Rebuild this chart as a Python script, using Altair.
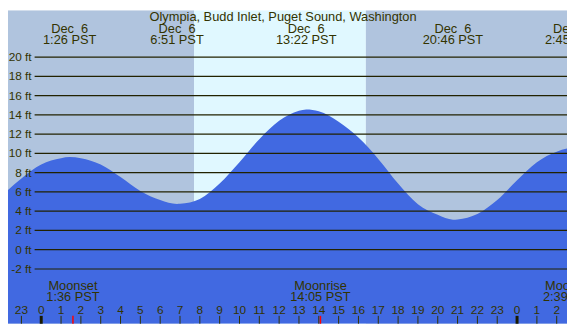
import altair as alt
import pandas as pd

# ---------------- data ----------------
title_text = "Olympia, Budd Inlet, Puget Sound, Washington"

# tide height (ft) against hour of Dec 6 (negative = Dec 5, >24 = Dec 7)
tide_hours = [-2, -1, 0, 1, 1.433, 2, 3, 4, 5, 6, 6.85, 7, 8, 9, 10, 11, 12, 13,
              13.367, 14, 15, 16, 17, 18, 19, 20, 20.767, 21, 22, 23, 24, 25, 26,
              26.75, 27]
tide_feet = [5.6, 7.4, 8.85, 9.5, 9.62, 9.5, 8.85, 7.55, 6.1, 5.15, 4.75, 4.76, 5.26,
             6.87, 9.08, 11.47, 13.38, 14.44, 14.57, 14.37, 13.28, 11.64, 9.43, 6.87,
             4.72, 3.62, 3.12, 3.15, 3.72, 5.16, 7.2, 9.08, 10.17, 10.55, 10.5]

# high / low tide labels
event_hours = [1.433, 6.85, 13.367, 20.767, 26.75]
event_dates = ["Dec \u00a06", "Dec \u00a06", "Dec \u00a06", "Dec \u00a06", "Dec \u00a07"]
event_times = ["1:26 PST", "6:51 PST", "13:22 PST", "20:46 PST", "2:45 PST"]

# moon events
moon_hours = [1.6, 14.083, 26.65]
moon_names = ["Moonset", "Moonrise", "Moonset"]
moon_times = ["1:36 PST", "14:05 PST", "2:39 PST"]

# sunrise / sunset
sunrise_h = 7.707
sunset_h = 16.375

# axis labels
ft_ticks = [-2, 0, 2, 4, 6, 8, 10, 12, 14, 16, 18, 20]
hour_ticks = list(range(-2, 27))

# ---------------- geometry ----------------
W, H = 567, 318          # chart covers the reference from x=8, y=8 on
PX_H, X_ZERO = 20.11, 41.7
PX_FT, Y_ZERO = 9.77, 250.9
x_dom = [(8 - X_ZERO) / PX_H, (575 - X_ZERO) / PX_H]
y_dom = [(Y_ZERO - 326) / PX_FT, (Y_ZERO - 8) / PX_FT]
xs = alt.Scale(domain=x_dom, nice=False, zero=False)
ys = alt.Scale(domain=y_dom, nice=False, zero=False)

TXT = "#333300"
LINE = "#222200"
FONT = "Liberation Sans"

bands_df = pd.DataFrame({"start": [x_dom[0] - 1, sunrise_h, sunset_h],
                         "end": [sunrise_h, sunset_h, x_dom[1] + 1],
                         "kind": ["night", "day", "night"]})
tide_df = pd.DataFrame({"h": tide_hours, "ft": tide_feet})
ft_df = pd.DataFrame({"ft": ft_ticks, "label": [f"{v} ft" for v in ft_ticks]})
ev_df = pd.DataFrame({"h": event_hours, "date": event_dates, "time": event_times})
moon_df = pd.DataFrame({"h": moon_hours, "name": moon_names, "time": moon_times})
hr_df = pd.DataFrame({"h": hour_ticks, "label": [str(v % 24) for v in hour_ticks],
                      "midnight": [v % 24 == 0 for v in hour_ticks]})
title_df = pd.DataFrame({"t": [title_text]})

X = lambda f: alt.X(f, type="quantitative", scale=xs, axis=None)
Y = lambda f: alt.Y(f, type="quantitative", scale=ys, axis=None)

bands = alt.Chart(bands_df).mark_rect(clip=True).encode(
    x=X("start"), x2="end", y=alt.value(0), y2=alt.value(H),
    color=alt.Color("kind:N", scale=alt.Scale(domain=["night", "day"],
                                              range=["#B0C4DE", "#E0F8FF"]), legend=None))

tide = alt.Chart(tide_df).mark_area(color="#4169E1", interpolate="monotone", clip=True).encode(
    x=X("h"), y=Y("ft"), y2=alt.datum(y_dom[0]))

grid = alt.Chart(ft_df).mark_rule(color=LINE, strokeWidth=1.2).encode(
    y=Y("ft"), x=alt.value(27), x2=alt.value(W))

ylab = alt.Chart(ft_df).mark_text(align="right", baseline="middle", font=FONT,
                                  fontSize=12, color=TXT).encode(
    y=Y("ft"), x=alt.value(24), text="label:N")

title = alt.Chart(title_df).mark_text(align="center", baseline="alphabetic", font=FONT,
                                      fontSize=13, color=TXT).encode(
    x=alt.value(279), y=alt.value(11), text="t:N")

ev_date = alt.Chart(ev_df).mark_text(align="center", baseline="alphabetic", font=FONT,
                                     fontSize=13, color=TXT).encode(
    x=X("h"), y=alt.value(23), text="date:N")
ev_time = alt.Chart(ev_df).mark_text(align="center", baseline="alphabetic", font=FONT,
                                     fontSize=13, color=TXT).encode(
    x=X("h"), y=alt.value(34.7), text="time:N")

moon_name = alt.Chart(moon_df).mark_text(align="center", baseline="alphabetic", font=FONT,
                                         fontSize=13, color=TXT).encode(
    x=X("h"), y=alt.value(283.7), text="name:N")
moon_time = alt.Chart(moon_df).mark_text(align="center", baseline="alphabetic", font=FONT,
                                         fontSize=13, color=TXT).encode(
    x=X("h"), y=alt.value(295.3), text="time:N")

hr_lab = alt.Chart(hr_df).mark_text(align="center", baseline="alphabetic", font=FONT,
                                    fontSize=12, color=TXT).encode(
    x=X("h"), y=alt.value(307.7), text="label:N")

hr_tick = alt.Chart(hr_df).transform_filter("!datum.midnight").mark_rule(
    color=TXT, strokeWidth=1).encode(x=X("h"), y=alt.value(310), y2=alt.value(H))
mid_tick = alt.Chart(hr_df).transform_filter("datum.midnight").mark_rule(
    color="#1a1a00", strokeWidth=3).encode(x=X("h"), y=alt.value(310), y2=alt.value(H))
moon_tick = alt.Chart(moon_df).mark_rule(color="#FF0000", strokeWidth=1.5).encode(
    x=X("h"), y=alt.value(310), y2=alt.value(H))

chart = alt.layer(bands, tide, grid, ylab, title, ev_date, ev_time, moon_name, moon_time,
                  hr_lab, hr_tick, mid_tick, moon_tick).properties(
    width=W, height=H, padding=0, autosize=alt.AutoSizeParams(type="none"),
    background="white"
).configure_view(stroke=None)

chart.save("out.html", embed_options={"renderer": "svg", "actions": False})
